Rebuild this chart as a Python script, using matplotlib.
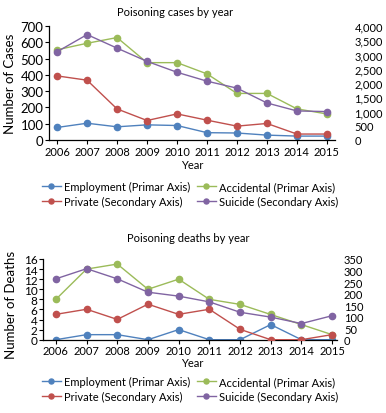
import matplotlib
matplotlib.use("Agg")
import matplotlib.pyplot as plt
from matplotlib.ticker import FuncFormatter, MultipleLocator

plt.rcParams['font.family'] = ['Lato', 'DejaVu Sans']

years = [2006, 2007, 2008, 2009, 2010, 2011, 2012, 2013, 2014, 2015]

# Cases
cases_employment = [77, 103, 81, 93, 89, 45, 43, 30, 24, 24]
cases_accidental = [554, 594, 629, 475, 475, 406, 286, 286, 191, 160]
cases_private = [2249, 2099, 1090, 684, 916, 696, 487, 580, 209, 209]
cases_suicide = [3096, 3699, 3223, 2759, 2377, 2064, 1820, 1299, 1020, 997]

# Deaths
deaths_employment = [0, 1, 1, 0, 2, 0, 0, 3, 0, 0]
deaths_accidental = [8, 14, 15, 10, 12, 8, 7, 5, 3, 1]
deaths_private = [110, 132, 88, 154, 110, 132, 45, 0, 0, 22]
deaths_suicide = [264, 308, 264, 206, 189, 164, 119, 98, 70, 104]

labels = ["Employment (Primar Axis)", "Accidental (Primar Axis)",
          "Private (Secondary Axis)", "Suicide (Secondary Axis)"]
colors = ["#4F81BD", "#9BBB59", "#C0504D", "#8064A2"]

W, H = 386, 414
fig = plt.figure(figsize=(W / 100, H / 100), dpi=100)


def px(x0, y0, x1, y1):
    return [x0 / W, 1 - y1 / H, (x1 - x0) / W, (y1 - y0) / H]


def make_panel(rect, xlim, left_series, right_series, lmax, lstep, rmax, rstep,
               lfont, rpad, title, title_xy, ylabel, ylabel_xy, xlabel_xy, legend_y):
    ax = fig.add_axes(rect)
    ax2 = ax.twinx()
    handles = {}
    for vals, c, lab in left_series:
        h, = ax.plot(years, vals, color=c, marker='o', markersize=4.5, lw=1.0, label=lab)
        handles[lab] = h
    for vals, c, lab in right_series:
        h, = ax2.plot(years, vals, color=c, marker='o', markersize=4.5, lw=1.0, label=lab)
        handles[lab] = h
    ax.set_xlim(*xlim)
    ax.set_ylim(0, lmax)
    ax2.set_ylim(0, rmax)
    ax.yaxis.set_major_locator(MultipleLocator(lstep))
    ax2.yaxis.set_major_locator(MultipleLocator(rstep))
    ax2.yaxis.set_major_formatter(FuncFormatter(lambda v, p: f"{int(v):,}"))
    ax.set_xticks(years)
    for a in (ax, ax2):
        for s in ('top', 'right'):
            a.spines[s].set_visible(False)
    ax2.spines['left'].set_visible(False)
    ax2.spines['bottom'].set_visible(False)
    ax.spines['left'].set_linewidth(0.9)
    ax.spines['bottom'].set_linewidth(0.9)
    ax.tick_params(axis='y', labelsize=lfont, length=3, width=0.8, pad=1)
    ax.tick_params(axis='x', labelsize=8, length=3, width=0.8, pad=1)
    ax2.tick_params(axis='y', labelsize=8, length=0, pad=rpad)
    fig.text(title_xy[0] / W, 1 - title_xy[1] / H, title, ha='center', va='center', fontsize=8)
    fig.text(ylabel_xy[0] / W, 1 - ylabel_xy[1] / H, ylabel, ha='center', va='center',
             rotation=90, fontsize=9.5)
    fig.text(xlabel_xy[0] / W, 1 - xlabel_xy[1] / H, "Year", ha='center', va='center', fontsize=8)
    order = [labels[0], labels[2], labels[1], labels[3]]
    fig.legend([handles[l] for l in order], order, ncol=2, loc='center',
               bbox_to_anchor=(190 / W, 1 - legend_y / H), frameon=False, fontsize=8,
               handlelength=1.7, handletextpad=0.3, columnspacing=0.6,
               labelspacing=0.3, borderpad=0, markerscale=0.8)
    return ax, ax2


make_panel(px(49, 27, 335, 141), (2005.73, 2015.27),
           [(cases_employment, colors[0], labels[0]), (cases_accidental, colors[1], labels[1])],
           [(cases_private, colors[2], labels[2]), (cases_suicide, colors[3], labels[3])],
           700, 100, 4000, 500, 9.5, 14,
           "Poisoning cases by year", (175, 12), "Number of Cases", (10, 84), (192, 166), 195)

make_panel(px(43, 260, 337, 340.7), (2005.58, 2015.16),
           [(deaths_employment, colors[0], labels[0]), (deaths_accidental, colors[1], labels[1])],
           [(deaths_private, colors[2], labels[2]), (deaths_suicide, colors[3], labels[3])],
           16, 2, 350, 50, 8.5, 5,
           "Poisoning deaths by year", (188, 239), "Number of Deaths", (11, 305), (192, 364), 390)

fig.savefig("out.png", dpi=100)
